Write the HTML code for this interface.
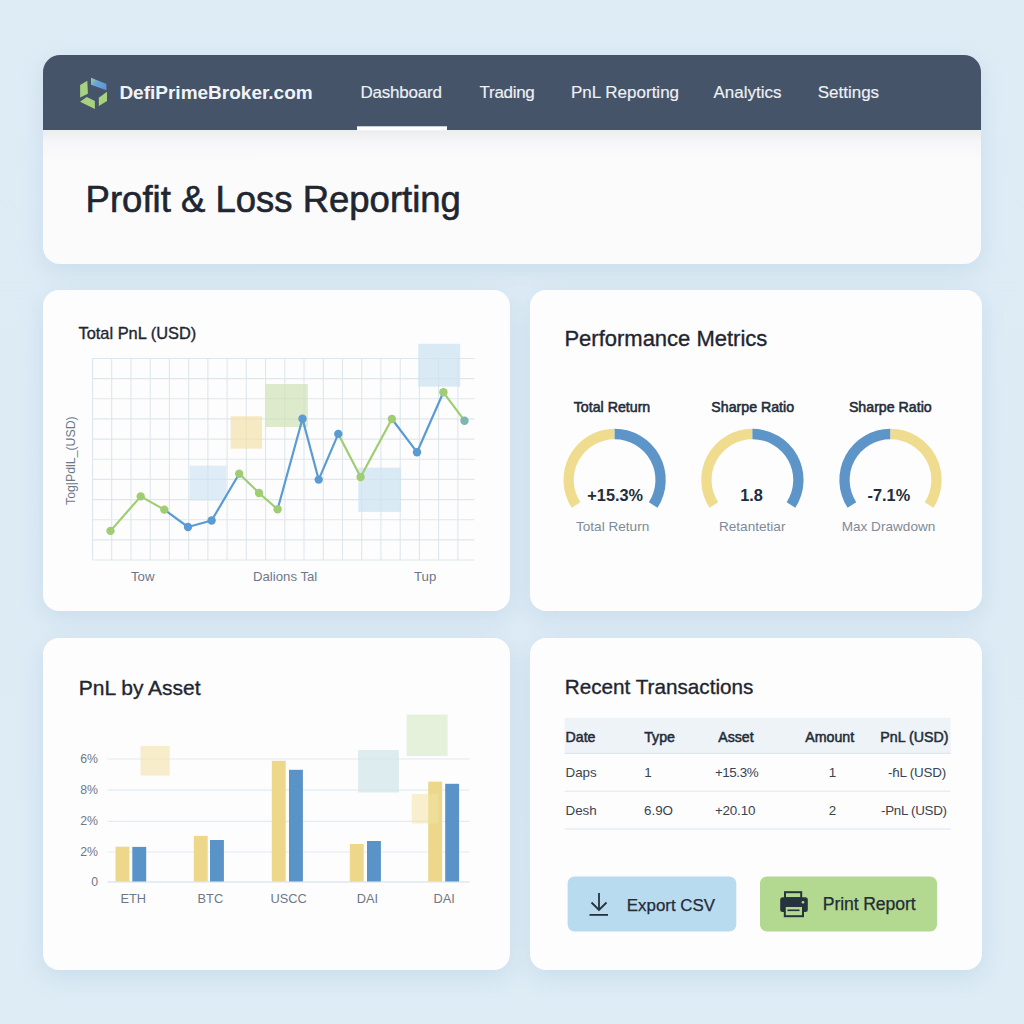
<!DOCTYPE html>
<html><head><meta charset="utf-8">
<style>
*{margin:0;padding:0;box-sizing:border-box}
html,body{width:1024px;height:1024px;overflow:hidden}
body{background:linear-gradient(180deg,#deecf5 0%,#ddebf5 50%,#ddecf5 100%);font-family:"Liberation Sans",sans-serif;position:relative}
.abs{position:absolute;white-space:nowrap;line-height:1;z-index:3}
.card{position:absolute;background:#fdfdfe;border-radius:16px;box-shadow:0 7px 22px rgba(130,172,205,.22)}
.hdr{position:absolute;left:43px;top:55.4px;width:938.3px;height:208.2px;border-radius:17px;background:#fbfbfc;overflow:hidden;box-shadow:0 7px 22px rgba(130,172,205,.22)}
.nav{position:absolute;left:0;top:0;width:938px;height:74.4px;background:#46546a}
.navt{color:#eef1f5;-webkit-text-stroke:0.15px #eef1f5}
.ct{color:#1f2630;-webkit-text-stroke:0.35px #1f2630}
.dk{color:#232c38}
.gray{color:#6d7886}
.lg{color:#7f8b98}
svg.full{position:absolute;left:0;top:0;z-index:2}
</style></head><body>
<div class="hdr">
  <div class="nav"></div>
  <div style="position:absolute;left:0;top:74.4px;width:938px;height:32px;background:linear-gradient(180deg,rgba(232,233,235,.8),rgba(240,241,242,.45) 40%,rgba(255,255,255,0))"></div>
</div>
<div class="card" style="left:43.3px;top:289.8px;width:466.8px;height:321.7px"></div>
<div class="card" style="left:530px;top:289.8px;width:451.7px;height:321.7px"></div>
<div class="card" style="left:43.3px;top:637.8px;width:466.8px;height:332px"></div>
<div class="card" style="left:530px;top:637.8px;width:451.7px;height:332px"></div>
<svg class="full" width="1024" height="1024">
<defs>
<linearGradient id="lg1" x1="0" y1="0" x2="1" y2="0.6">
<stop offset="0" stop-color="#a4d17f"/><stop offset=".12" stop-color="#94c79a"/><stop offset=".4" stop-color="#6aa6d8"/><stop offset="1" stop-color="#5f97d6"/>
</linearGradient>
</defs>
<polygon points="80.1,85.1 87.3,80.7 87.9,93.7 80.1,97.5" fill="#a8d27f"/>
<polygon points="91,77.7 106.4,84 106.4,90.3 91,84.8" fill="url(#lg1)"/>
<polygon points="80.1,101.7 86.8,97 94.9,101.1 94.9,108.9" fill="#a8d27f"/>
<polygon points="98.8,97.8 107,91.8 107,101.1 98.8,105.9" fill="#a8d27f"/>
<rect x="357" y="126.3" width="90" height="4" fill="#ffffff"/>
<g stroke="#dde7ec" stroke-width="1.1" fill="none"><line x1="92.5" y1="358.5" x2="474.4" y2="358.5"/><line x1="92.5" y1="378.6" x2="474.4" y2="378.6"/><line x1="92.5" y1="398.8" x2="474.4" y2="398.8"/><line x1="92.5" y1="418.9" x2="474.4" y2="418.9"/><line x1="92.5" y1="439.1" x2="474.4" y2="439.1"/><line x1="92.5" y1="459.2" x2="474.4" y2="459.2"/><line x1="92.5" y1="479.4" x2="474.4" y2="479.4"/><line x1="92.5" y1="499.6" x2="474.4" y2="499.6"/><line x1="92.5" y1="519.7" x2="474.4" y2="519.7"/><line x1="92.5" y1="539.9" x2="474.4" y2="539.9"/><line x1="92.5" y1="560.0" x2="474.4" y2="560.0"/><line x1="92.5" y1="358.5" x2="92.5" y2="560"/><line x1="111.7" y1="358.5" x2="111.7" y2="560"/><line x1="131.0" y1="358.5" x2="131.0" y2="560"/><line x1="150.2" y1="358.5" x2="150.2" y2="560"/><line x1="169.4" y1="358.5" x2="169.4" y2="560"/><line x1="188.7" y1="358.5" x2="188.7" y2="560"/><line x1="207.9" y1="358.5" x2="207.9" y2="560"/><line x1="227.1" y1="358.5" x2="227.1" y2="560"/><line x1="246.3" y1="358.5" x2="246.3" y2="560"/><line x1="265.6" y1="358.5" x2="265.6" y2="560"/><line x1="284.8" y1="358.5" x2="284.8" y2="560"/><line x1="304.0" y1="358.5" x2="304.0" y2="560"/><line x1="323.3" y1="358.5" x2="323.3" y2="560"/><line x1="342.5" y1="358.5" x2="342.5" y2="560"/><line x1="361.7" y1="358.5" x2="361.7" y2="560"/><line x1="380.9" y1="358.5" x2="380.9" y2="560"/><line x1="400.2" y1="358.5" x2="400.2" y2="560"/><line x1="419.4" y1="358.5" x2="419.4" y2="560"/><line x1="438.6" y1="358.5" x2="438.6" y2="560"/><line x1="457.9" y1="358.5" x2="457.9" y2="560"/></g><rect x="230.6" y="416.2" width="31.5" height="32.5" fill="#f2e1a4" opacity="0.65"/><rect x="265.6" y="384" width="42.2" height="43.0" fill="#cfe3b6" opacity="0.7"/><rect x="189.7" y="465.7" width="36.6" height="34.7" fill="#cfe4f3" opacity="0.7"/><rect x="358.3" y="467.7" width="42.7" height="44.2" fill="#cde3f2" opacity="0.75"/><rect x="418.3" y="343.8" width="41.9" height="42.9" fill="#cde3f2" opacity="0.75"/><line x1="110.5" y1="530.9" x2="140.7" y2="496.4" stroke="#a0cd74" stroke-width="2.2" stroke-linecap="round"/><line x1="140.7" y1="496.4" x2="164.3" y2="509.6" stroke="#a0cd74" stroke-width="2.2" stroke-linecap="round"/><line x1="164.3" y1="509.6" x2="188" y2="527" stroke="#5b9bd3" stroke-width="2.2" stroke-linecap="round"/><line x1="188" y1="527" x2="211.6" y2="520.5" stroke="#5b9bd3" stroke-width="2.2" stroke-linecap="round"/><line x1="211.6" y1="520.5" x2="239.2" y2="473.8" stroke="#5b9bd3" stroke-width="2.2" stroke-linecap="round"/><line x1="239.2" y1="473.8" x2="259" y2="493" stroke="#a0cd74" stroke-width="2.2" stroke-linecap="round"/><line x1="259" y1="493" x2="277.6" y2="509.3" stroke="#a0cd74" stroke-width="2.2" stroke-linecap="round"/><line x1="277.6" y1="509.3" x2="302.5" y2="418.7" stroke="#5b9bd3" stroke-width="2.2" stroke-linecap="round"/><line x1="302.5" y1="418.7" x2="318.7" y2="479.6" stroke="#5b9bd3" stroke-width="2.2" stroke-linecap="round"/><line x1="318.7" y1="479.6" x2="338.3" y2="433.9" stroke="#5b9bd3" stroke-width="2.2" stroke-linecap="round"/><line x1="338.3" y1="433.9" x2="360.6" y2="477.1" stroke="#a0cd74" stroke-width="2.2" stroke-linecap="round"/><line x1="360.6" y1="477.1" x2="391.9" y2="419" stroke="#a0cd74" stroke-width="2.2" stroke-linecap="round"/><line x1="391.9" y1="419" x2="417" y2="452.2" stroke="#5b9bd3" stroke-width="2.2" stroke-linecap="round"/><line x1="417" y1="452.2" x2="443.4" y2="392.3" stroke="#5b9bd3" stroke-width="2.2" stroke-linecap="round"/><line x1="443.4" y1="392.3" x2="464.5" y2="420.7" stroke="#a0cd74" stroke-width="2.2" stroke-linecap="round"/><circle cx="110.5" cy="530.9" r="4.2" fill="#a0cd74"/><circle cx="140.7" cy="496.4" r="4.2" fill="#a0cd74"/><circle cx="164.3" cy="509.6" r="4.2" fill="#a0cd74"/><circle cx="188" cy="527" r="4.2" fill="#5b9bd3"/><circle cx="211.6" cy="520.5" r="4.2" fill="#5b9bd3"/><circle cx="239.2" cy="473.8" r="4.2" fill="#a0cd74"/><circle cx="259" cy="493" r="4.2" fill="#a0cd74"/><circle cx="277.6" cy="509.3" r="4.2" fill="#a0cd74"/><circle cx="302.5" cy="418.7" r="4.2" fill="#5b9bd3"/><circle cx="318.7" cy="479.6" r="4.2" fill="#5b9bd3"/><circle cx="338.3" cy="433.9" r="4.2" fill="#5b9bd3"/><circle cx="360.6" cy="477.1" r="4.2" fill="#a0cd74"/><circle cx="391.9" cy="419" r="4.2" fill="#a0cd74"/><circle cx="417" cy="452.2" r="4.2" fill="#5b9bd3"/><circle cx="443.4" cy="392.3" r="4.2" fill="#a0cd74"/><circle cx="464.5" cy="420.7" r="4.2" fill="#7fb5b0"/><path d="M576.02,505.05 A46,46 0 0 1 614.60,434.00" stroke="#efdc8f" stroke-width="10.3" fill="none"/><path d="M614.60,434.00 A46,46 0 0 1 653.18,505.05" stroke="#5e95c9" stroke-width="10.3" fill="none"/><path d="M713.82,505.05 A46,46 0 0 1 752.40,434.00" stroke="#efdc8f" stroke-width="10.3" fill="none"/><path d="M752.40,434.00 A46,46 0 0 1 790.98,505.05" stroke="#5e95c9" stroke-width="10.3" fill="none"/><path d="M851.92,505.05 A46,46 0 0 1 890.50,434.00" stroke="#5e95c9" stroke-width="10.3" fill="none"/><path d="M890.50,434.00 A46,46 0 0 1 929.08,505.05" stroke="#efdc8f" stroke-width="10.3" fill="none"/><g stroke="#e3ebf1" stroke-width="1.2"><line x1="107.5" y1="759" x2="469.5" y2="759"/><line x1="107.5" y1="790.2" x2="469.5" y2="790.2"/><line x1="107.5" y1="821.3" x2="469.5" y2="821.3"/><line x1="107.5" y1="852" x2="469.5" y2="852"/></g><line x1="107.5" y1="882" x2="469.5" y2="882" stroke="#dfe8ef" stroke-width="1.5"/><rect x="140.5" y="745.9" width="29.2" height="29.6" fill="#f3e3a6" opacity="0.6"/><rect x="358.2" y="750" width="40.6" height="42.4" fill="#cfe5e8" opacity="0.7"/><rect x="406.7" y="714.6" width="40.9" height="41.4" fill="#d9ebc6" opacity="0.65"/><rect x="115.5" y="846.7" width="13.9" height="34.8" fill="#ecd78b"/><rect x="132.3" y="846.9" width="13.9" height="34.6" fill="#5a93c8"/><rect x="193.8" y="835.9" width="13.9" height="45.6" fill="#ecd78b"/><rect x="210" y="840" width="13.9" height="41.5" fill="#5a93c8"/><rect x="271.8" y="760.8" width="13.9" height="120.7" fill="#ecd78b"/><rect x="289" y="769.8" width="13.9" height="111.7" fill="#5a93c8"/><rect x="349.8" y="844" width="13.9" height="37.5" fill="#ecd78b"/><rect x="367" y="841" width="13.9" height="40.5" fill="#5a93c8"/><rect x="428.2" y="781.6" width="13.9" height="99.9" fill="#ecd78b"/><rect x="445.2" y="783.8" width="13.9" height="97.7" fill="#5a93c8"/><rect x="411.7" y="794" width="26.6" height="29.5" fill="#f3e3a6" opacity="0.55"/><rect x="564.6" y="717.8" width="386" height="35.5" fill="#eef3f7"/><line x1="564.6" y1="753.4" x2="950.6" y2="753.4" stroke="#d9e3ec" stroke-width="1"/><line x1="564.6" y1="791.2" x2="950.6" y2="791.2" stroke="#dde5ed" stroke-width="1"/><line x1="564.6" y1="829" x2="950.6" y2="829" stroke="#dde5ed" stroke-width="1"/><rect x="567.6" y="876.4" width="168.7" height="55.2" rx="7" fill="#b9dbef"/><rect x="760" y="876.4" width="177" height="55.2" rx="7" fill="#b3d88f"/><g stroke="#27323f" stroke-width="1.8" fill="none" stroke-linecap="butt"><line x1="599" y1="892.9" x2="599" y2="909.5"/><polyline points="591.5,902.5 599,910 606.5,902.5"/><line x1="589.5" y1="914.9" x2="608" y2="914.9"/></g><g fill="#27323f"><rect x="785" y="892.2" width="16.2" height="6" fill="none" stroke="#27323f" stroke-width="2"/><rect x="780.2" y="897.2" width="27.6" height="14.8" rx="2.5"/><rect x="784.8" y="906" width="18.2" height="10.2" fill="#b3d88f"/><rect x="784.8" y="906" width="18.2" height="10.2" fill="none" stroke="#27323f" stroke-width="2"/><rect x="787.5" y="909.5" width="12" height="1.6"/><circle cx="803" cy="902.3" r="1.3" fill="#b3d88f"/></g></svg>
<div class="abs " style="left:119.4px;top:82.9px;font-size:19px;font-weight:bold;color:#f1f4f7;">DefiPrimeBroker.com</div>
<div class="abs navt" style="left:360.4px;top:84.2px;font-size:17px;letter-spacing:-0.2px;">Dashboard</div>
<div class="abs navt" style="left:479.6px;top:84.2px;font-size:17px;letter-spacing:-0.3px;">Trading</div>
<div class="abs navt" style="left:571.0px;top:84.2px;font-size:17px;letter-spacing:0px;">PnL Reporting</div>
<div class="abs navt" style="left:713.4px;top:84.2px;font-size:17px;letter-spacing:0px;">Analytics</div>
<div class="abs navt" style="left:817.7px;top:84.2px;font-size:17px;letter-spacing:0px;">Settings</div>
<div class="abs ct" style="left:85.6px;top:182.1px;font-size:36.5px;-webkit-text-stroke:0.6px #1f2630;">Profit &amp; Loss Reporting</div>
<div class="abs ct" style="left:78.5px;top:324.5px;font-size:16.4px;">Total PnL (USD)</div>
<div class="abs ct" style="left:564.4px;top:327.7px;font-size:22px;">Performance Metrics</div>
<div class="abs ct" style="left:78.8px;top:677.1px;font-size:21px;">PnL by Asset</div>
<div class="abs ct" style="left:564.8px;top:676.7px;font-size:20.7px;">Recent Transactions</div>
<div class="abs gray" style="left:131.0px;top:570.3px;font-size:13.2px;">Tow</div>
<div class="abs gray" style="left:253.0px;top:570.3px;font-size:13.2px;">Dalions Tal</div>
<div class="abs gray" style="left:414.0px;top:570.3px;font-size:13.2px;">Tup</div>
<div class="abs gray" style="left:64.7px;top:505.2px;font-size:12.3px;transform-origin:0 0;transform:rotate(-90deg);">Tog|PdlL_(USD)</div>
<div class="abs dk" style="left:552px;width:120px;text-align:center;top:399.5px;font-size:14.2px;-webkit-text-stroke:0.55px #232c38">Total Return</div>
<div class="abs dk" style="left:692.7px;width:120px;text-align:center;top:399.5px;font-size:14.2px;-webkit-text-stroke:0.55px #232c38">Sharpe Ratio</div>
<div class="abs dk" style="left:830.3px;width:120px;text-align:center;top:399.5px;font-size:14.2px;-webkit-text-stroke:0.55px #232c38">Sharpe Ratio</div>
<div class="abs dk" style="left:555.2px;width:120px;text-align:center;top:487.4px;font-size:16.3px;font-weight:bold">+15.3%</div>
<div class="abs dk" style="left:691.6px;width:120px;text-align:center;top:487.4px;font-size:16.3px;font-weight:bold">1.8</div>
<div class="abs dk" style="left:828.9px;width:120px;text-align:center;top:487.4px;font-size:16.3px;font-weight:bold">-7.1%</div>
<div class="abs lg" style="left:552.6px;width:120px;text-align:center;top:519.7px;font-size:13.6px">Total Return</div>
<div class="abs lg" style="left:692.2px;width:120px;text-align:center;top:519.7px;font-size:13.6px">Retantetiar</div>
<div class="abs lg" style="left:828.5px;width:120px;text-align:center;top:519.7px;font-size:13.6px">Max Drawdown</div>
<div class="abs gray" style="left:40px;width:58px;text-align:right;top:753.0px;font-size:12.3px">6%</div>
<div class="abs gray" style="left:40px;width:58px;text-align:right;top:784.2px;font-size:12.3px">8%</div>
<div class="abs gray" style="left:40px;width:58px;text-align:right;top:815.3px;font-size:12.3px">2%</div>
<div class="abs gray" style="left:40px;width:58px;text-align:right;top:846.0px;font-size:12.3px">2%</div>
<div class="abs gray" style="left:40px;width:58px;text-align:right;top:876.0px;font-size:12.3px">0</div>
<div class="abs gray" style="left:93.19999999999999px;width:80px;text-align:center;top:892.7px;font-size:12.8px">ETH</div>
<div class="abs gray" style="left:170.4px;width:80px;text-align:center;top:892.7px;font-size:12.8px">BTC</div>
<div class="abs gray" style="left:248.60000000000002px;width:80px;text-align:center;top:892.7px;font-size:12.8px">USCC</div>
<div class="abs gray" style="left:327.4px;width:80px;text-align:center;top:892.7px;font-size:12.8px">DAI</div>
<div class="abs gray" style="left:404.2px;width:80px;text-align:center;top:892.7px;font-size:12.8px">DAI</div>
<div class="abs dk" style="left:565.5px;top:729.6px;font-size:14.2px;-webkit-text-stroke:0.5px #232c38;">Date</div>
<div class="abs dk" style="left:644.2px;top:729.6px;font-size:14.2px;-webkit-text-stroke:0.5px #232c38;">Type</div>
<div class="abs dk" style="left:718.2px;top:729.6px;font-size:14.2px;-webkit-text-stroke:0.5px #232c38;">Asset</div>
<div class="abs dk" style="left:805.3px;top:729.6px;font-size:14.2px;-webkit-text-stroke:0.5px #232c38;">Amount</div>
<div class="abs dk" style="left:880.3px;top:729.6px;font-size:14.2px;-webkit-text-stroke:0.5px #232c38;">PnL (USD)</div>
<div class="abs " style="left:565.5px;top:765.5px;font-size:13.4px;letter-spacing:0px;color:#3a4350;">Daps</div>
<div class="abs " style="left:644.2px;top:765.5px;font-size:13.4px;letter-spacing:0px;color:#3a4350;">1</div>
<div class="abs " style="left:715.0px;top:765.5px;font-size:13.4px;letter-spacing:-0.45px;color:#3a4350;">+15.3%</div>
<div class="abs " style="left:828.8px;top:765.5px;font-size:13.4px;letter-spacing:0px;color:#3a4350;">1</div>
<div class="abs " style="left:888.0px;top:765.5px;font-size:13.4px;letter-spacing:-0.2px;color:#3a4350;">-ɦL (USD)</div>
<div class="abs " style="left:565.5px;top:803.5px;font-size:13.4px;letter-spacing:0px;color:#3a4350;">Desh</div>
<div class="abs " style="left:644.0px;top:803.5px;font-size:13.4px;letter-spacing:0px;color:#3a4350;">6.9O</div>
<div class="abs " style="left:715.0px;top:803.5px;font-size:13.4px;letter-spacing:-0.2px;color:#3a4350;">+20.10</div>
<div class="abs " style="left:828.8px;top:803.5px;font-size:13.4px;letter-spacing:0px;color:#3a4350;">2</div>
<div class="abs " style="left:881.0px;top:803.5px;font-size:13.4px;letter-spacing:-0.3px;color:#3a4350;">-PnL (USD)</div>
<div class="abs dk" style="left:626.8px;top:898.0px;font-size:16.9px;-webkit-text-stroke:0.25px #232c38;">Export CSV</div>
<div class="abs dk" style="left:822.8px;top:896.1px;font-size:17.6px;letter-spacing:-0.1px;-webkit-text-stroke:0.25px #232c38;">Print Report</div>
</body></html>
